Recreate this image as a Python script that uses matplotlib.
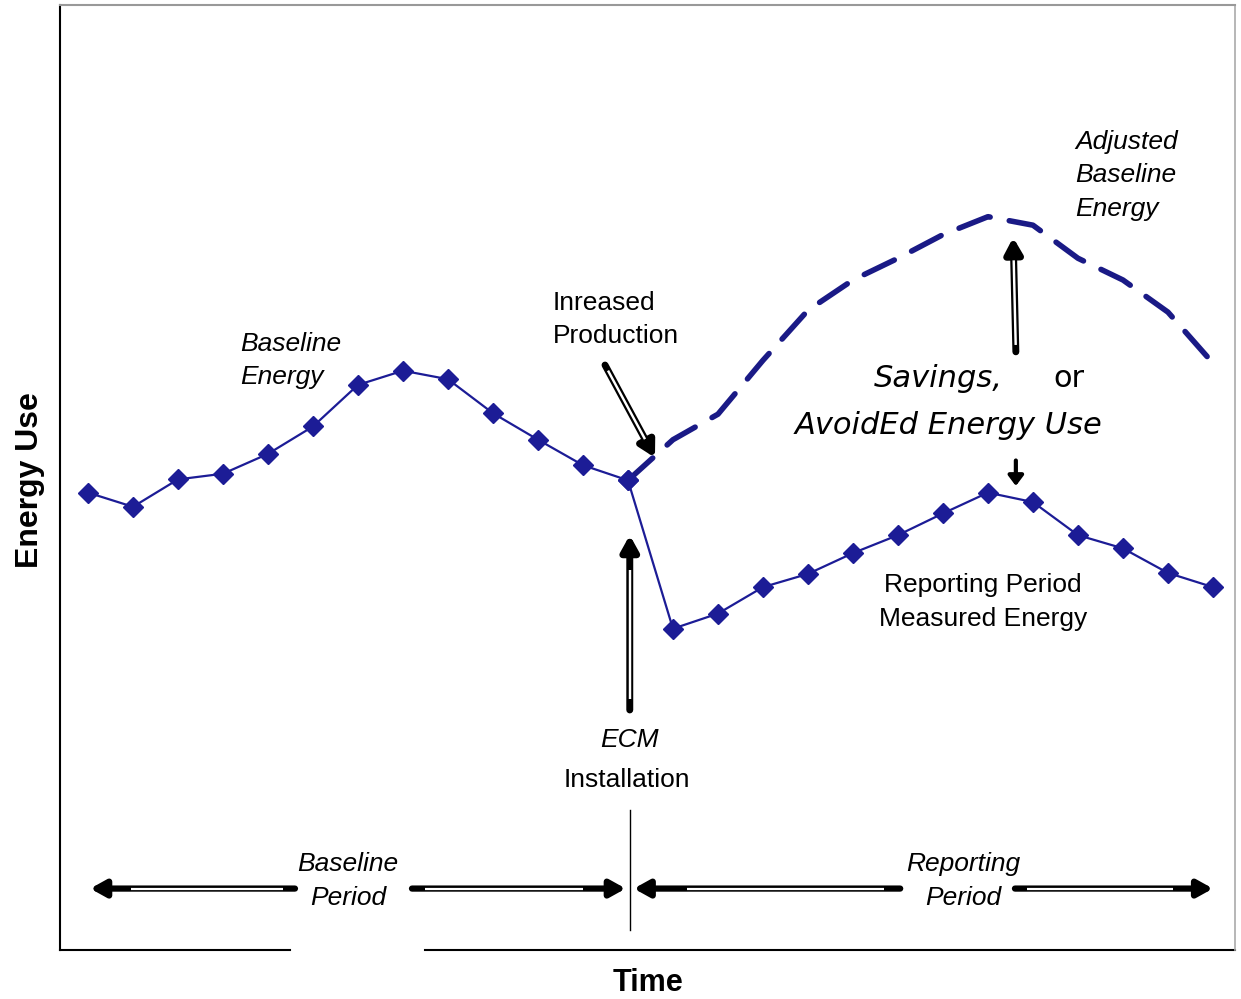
import matplotlib
matplotlib.use('Agg')
import matplotlib.pyplot as plt
from matplotlib import font_manager

# time steps (one per reading) and energy use readings
baseline_t = list(range(0, 13))
baseline_e = [48.4, 46.9, 49.8, 50.4, 52.5, 55.4, 59.8, 61.3, 60.4, 56.8, 54.0, 51.3, 49.7]

reporting_t = list(range(12, 26))
reporting_e = [49.7, 34.0, 35.6, 38.4, 39.8, 42.0, 43.9, 46.2, 48.4, 47.4, 43.9, 42.5, 39.9, 38.4]

adjusted_t = list(range(12, 26))
adjusted_e = [49.7, 54.0, 56.7, 62.4, 67.7, 70.9, 73.2, 75.7, 77.6, 76.7, 73.2, 70.9, 67.5, 62.1]

ecm_t = 12.04

# pick a narrow sans if there is one
names = {f.name for f in font_manager.fontManager.ttflist}
if 'Liberation Sans Narrow' in names:
    narrow = 'Liberation Sans Narrow'
    nsize = 21
    lsp = 1.3
else:
    narrow = 'Liberation Sans'
    nsize = 19
    lsp = 1.5

line_col = '#1c1c96'
dash_col = '#1a1a86'

fig = plt.figure(figsize=(12.41, 9.99), dpi=100)
ax = fig.add_axes([60 / 1241, 49 / 999, 1175 / 1241, 945 / 999])

ax.plot(adjusted_t, adjusted_e, color=dash_col, lw=4, dashes=(6, 3.5), dash_capstyle='round')
ax.plot(reporting_t, reporting_e, color=line_col, lw=1.6, marker='D', ms=10, mec=line_col, mfc=line_col)
ax.plot(baseline_t, baseline_e, color=line_col, lw=1.6, marker='D', ms=10, mec=line_col, mfc=line_col)

ax.set_xlim(-0.622, 25.49)
ax.set_ylim(0, 100)
ax.set_xticks([])
ax.set_yticks([])

ax.spines['left'].set_color('black')
ax.spines['left'].set_linewidth(1.5)
ax.spines['top'].set_color('#999999')
ax.spines['top'].set_linewidth(1.5)
ax.spines['right'].set_color('#aaaaaa')
ax.spines['right'].set_linewidth(1.2)
ax.spines['bottom'].set_visible(False)
# bottom axis line has a gap in it
ax.plot([0, 230 / 1175], [0, 0], color='black', lw=1.5, transform=ax.transAxes, clip_on=False)
ax.plot([365 / 1175, 1], [0, 0], color='black', lw=1.5, transform=ax.transAxes, clip_on=False)

# ECM installation marker line
ax.plot([ecm_t, ecm_t], [2.1, 14.8], color='black', lw=1)


def fat_arrow(x1, y1, x2, y2, lw=5, hw=0.5, hl=0.9, core=True):
    ax.annotate('', xy=(x2, y2), xytext=(x1, y1),
                arrowprops=dict(arrowstyle='-|>,head_width=%s,head_length=%s' % (hw, hl),
                                color='black', lw=lw, shrinkA=0, shrinkB=0))
    if not core:
        return
    # white core to look like an outlined shaft
    fx = x1 + (x2 - x1) * 0.06
    fy = y1 + (y2 - y1) * 0.06
    tx = x1 + (x2 - x1) * 0.8
    ty = y1 + (y2 - y1) * 0.8
    ax.plot([fx, tx], [fy, ty], color='white', lw=lw * 0.35, solid_capstyle='butt', zorder=5)


fat_arrow(11.49, 61.9, 12.6, 52.1)
fat_arrow(12.04, 25.4, 12.04, 43.9)
fat_arrow(20.62, 63.3, 20.56, 75.4)
fat_arrow(20.62, 51.8, 20.62, 49.1, lw=3, hw=0.45, hl=0.6, core=False)

# period arrows along the bottom
fat_arrow(4.6, 6.5, 0.05, 6.5, lw=4.5)
fat_arrow(7.2, 6.5, 11.95, 6.5, lw=4.5)
fat_arrow(18.05, 6.5, 12.13, 6.5, lw=4.5)
fat_arrow(20.6, 6.5, 25.0, 6.5, lw=4.5)

ax.text(3.38, 62.4, 'Baseline\nEnergy', family=narrow, size=nsize, style='italic',
        ha='left', va='center', linespacing=lsp)
ax.text(10.33, 66.7, 'Inreased\nProduction', family=narrow, size=nsize,
        ha='left', va='center', linespacing=lsp)
ax.text(21.93, 82.0, 'Adjusted\nBaseline\nEnergy', family=narrow, size=nsize, style='italic',
        ha='left', va='center', linespacing=lsp)
ax.text(18.9, 60.5, 'Savings,', family='DejaVu Sans', size=22, style='italic',
        ha='center', va='center')
ax.text(21.8, 60.5, 'or', family='DejaVu Sans', size=22,
        ha='center', va='center')
ax.text(19.13, 55.5, 'AvoidEd Energy Use', family='DejaVu Sans', size=22, style='italic',
        ha='center', va='center')
ax.text(19.89, 36.8, 'Reporting Period\nMeasured Energy', family=narrow, size=nsize,
        ha='center', va='center', linespacing=lsp)
ax.text(12.04, 22.2, 'ECM', family=narrow, size=nsize, style='italic', ha='center', va='center')
ax.text(11.98, 18.0, 'Installation', family=narrow, size=nsize, ha='center', va='center')
ax.text(5.78, 7.3, 'Baseline\nPeriod', family=narrow, size=nsize, style='italic',
        ha='center', va='center', linespacing=lsp)
ax.text(19.44, 7.3, 'Reporting\nPeriod', family=narrow, size=nsize, style='italic',
        ha='center', va='center', linespacing=lsp)

fig.text(30 / 1241, 1 - 480 / 999, 'Energy Use', family='Liberation Sans', weight='bold', size=23,
         rotation=90, ha='center', va='center')
fig.text(648 / 1241, 1 - 983 / 999, 'Time', family='Liberation Sans', weight='bold', size=22,
         ha='center', va='center')

fig.savefig('out.png', dpi=100)
